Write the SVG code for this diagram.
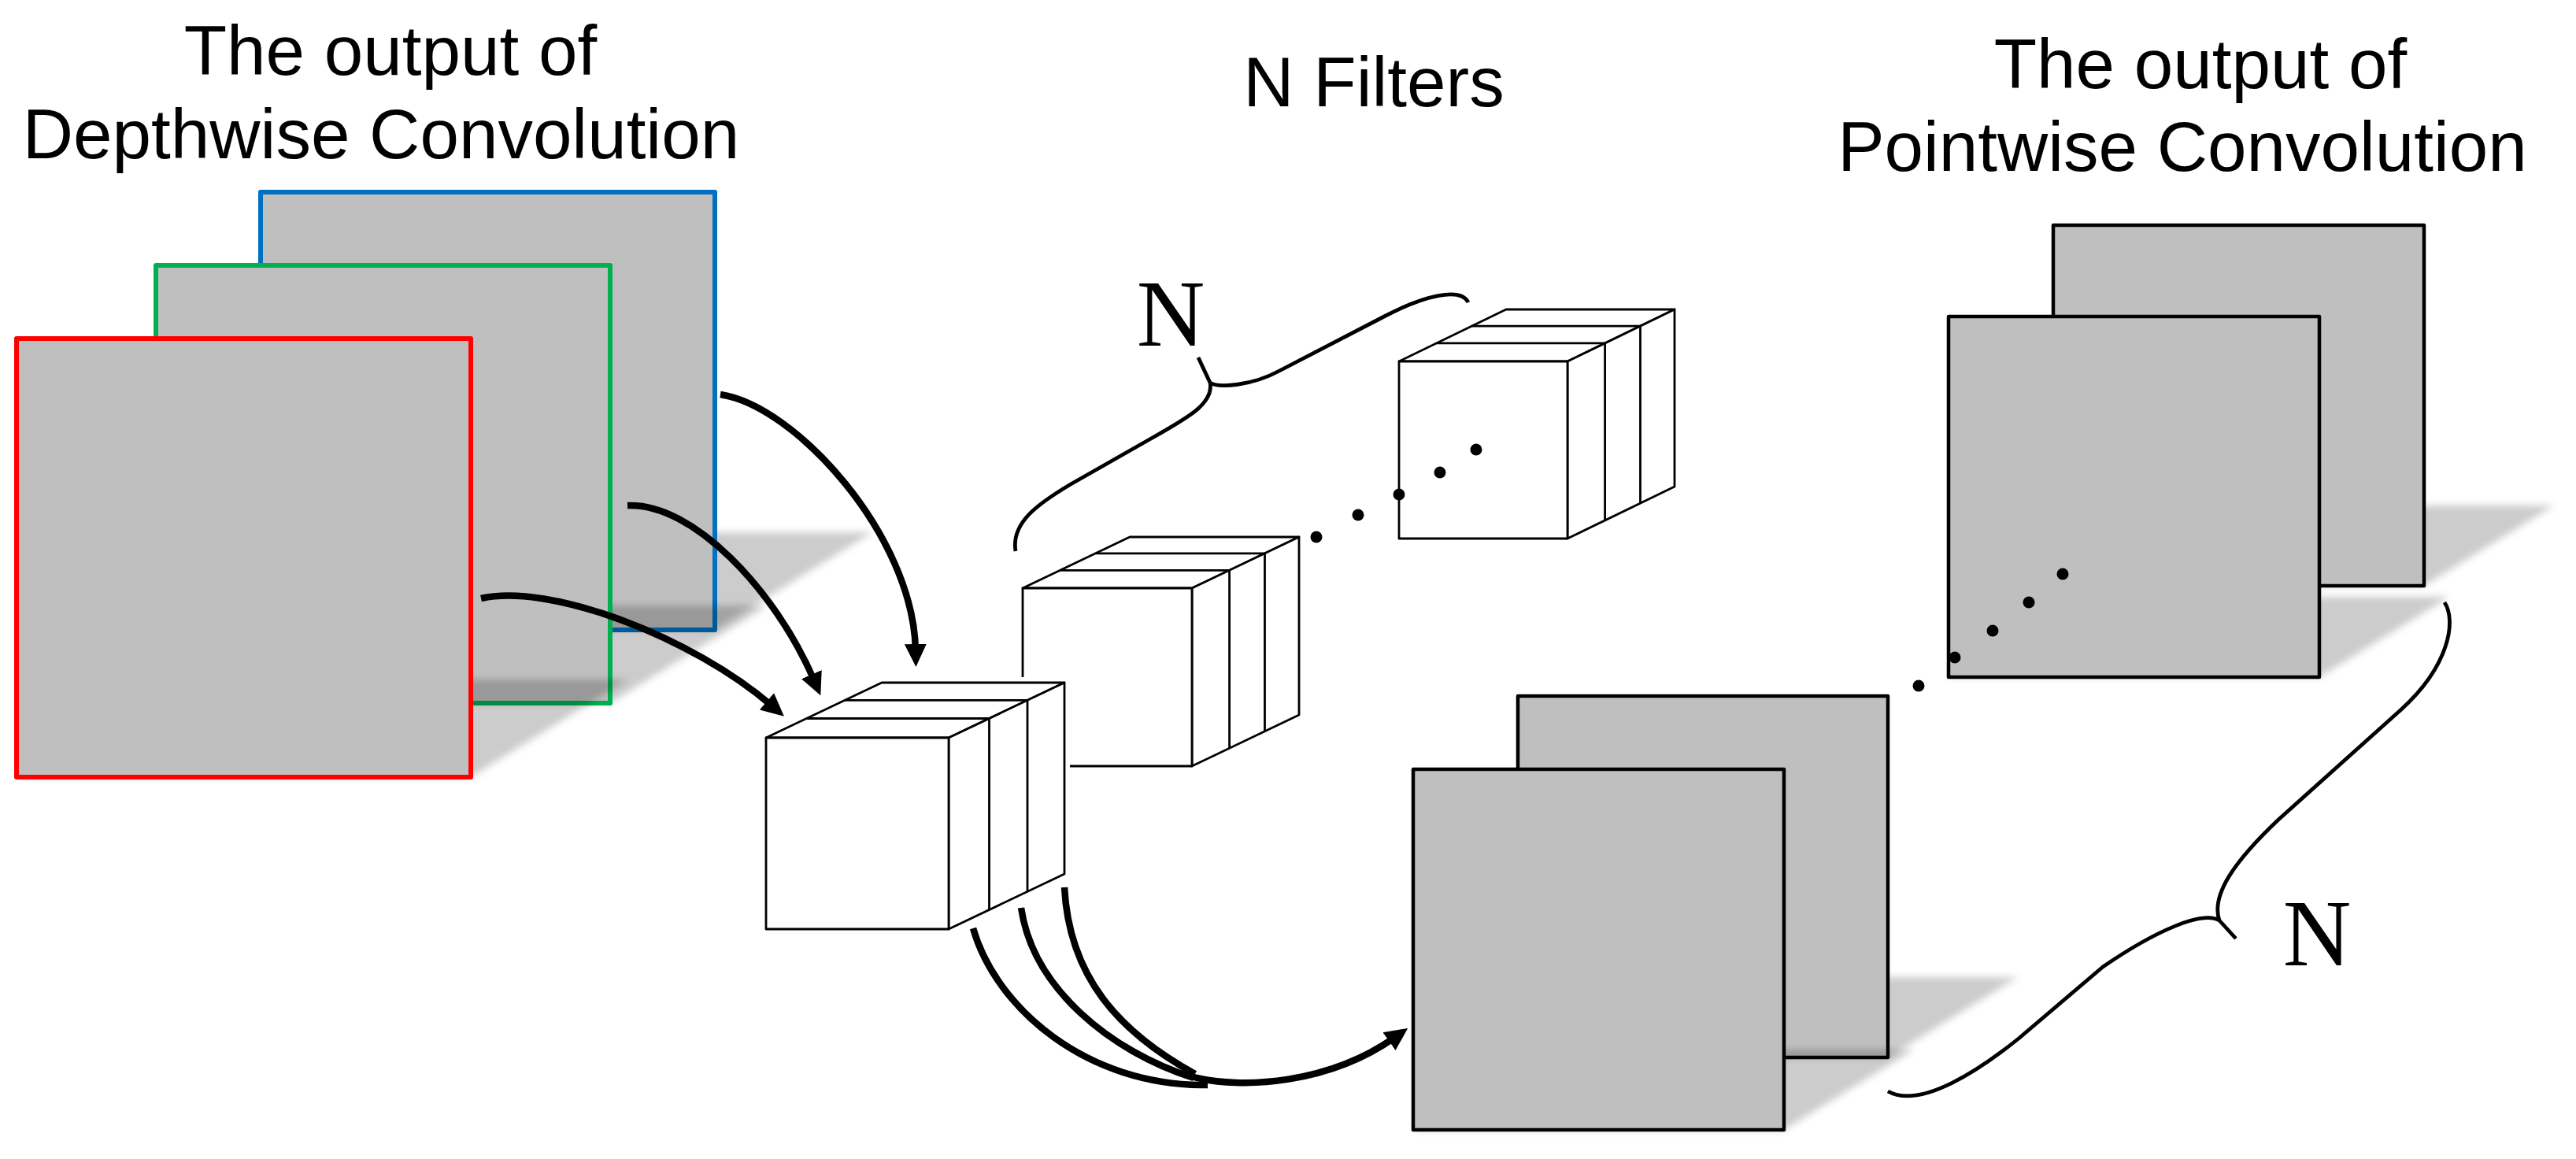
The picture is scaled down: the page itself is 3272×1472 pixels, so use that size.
<svg xmlns="http://www.w3.org/2000/svg" width="3272" height="1472" viewBox="0 0 3272 1472">
  <style>
    .title { font-family: "Liberation Sans", Arial, sans-serif; font-size: 89px; fill: #000; text-anchor: middle; }
    .nlabel { font-family: "Liberation Serif", "Times New Roman", serif; font-size: 120px; fill: #000; text-anchor: middle; }
    .sq { fill: #bfbfbf; stroke: #000; stroke-width: 4.5; stroke-linejoin: round; }
    .csq { fill: #bfbfbf; stroke-width: 6; stroke-linejoin: round; }
    .shadow { fill: #000; fill-opacity: 0.2; filter: url(#blur); }
    .face { fill: #fff; stroke: #000; stroke-width: 2.8; stroke-linejoin: round; }
    .div { fill: none; stroke: #000; stroke-width: 2.8; }
    .conn { fill: none; stroke: #000; stroke-width: 8.5; }
    .brace { fill: none; stroke: #000; stroke-width: 4.8; stroke-linecap: butt; stroke-linejoin: round; }
    .dot { fill: #000; }
  </style>
  <defs>
    <filter id="blur" x="-10%" y="-30%" width="120%" height="160%">
      <feGaussianBlur stdDeviation="5"/>
    </filter>
    <marker id="ah" markerUnits="userSpaceOnUse" markerWidth="32" markerHeight="32" viewBox="0 -16 32 32" refX="8" refY="0" orient="auto">
      <path d="M0,-14 L29,0 L0,14 Z" fill="#000"/>
    </marker>
  </defs>
  <rect x="0" y="0" width="3272" height="1472" fill="#fff"/>

  <!-- Depthwise output stack -->
  <g id="dw-blue">
    <polygon class="shadow" points="331,800 908,800 1108,676 531,676"/>
    <rect class="csq" x="331" y="244" width="577" height="556" stroke="#0070c0"/>
  </g>
  <g id="dw-green">
    <polygon class="shadow" points="198,893 775,893 975,769 398,769"/>
    <rect class="csq" x="198" y="337" width="577" height="556" stroke="#00b050"/>
  </g>
  <g id="dw-red">
    <polygon class="shadow" points="21,987 598,987 798,863 221,863"/>
    <rect class="csq" x="21" y="430" width="577" height="557" stroke="#ff0000"/>
  </g>
  <g id="title-dw">
    <text class="title" x="496" y="95">The output of</text>
    <text class="title" x="484" y="201">Depthwise Convolution</text>
  </g>

  <!-- Filters -->
  <g id="filter-c">
    <polygon class="face" points="1777,459 1991,459 2127,393 1913,393"/>
    <polygon class="face" points="1991,459 2127,393 2127,618 1991,684"/>
    <rect class="face" x="1777" y="459" width="214" height="225"/>
    <path class="div" d="M1824.6,435.9 H2038.6 V660.9 M1869.5,414.1 H2083.5 V639.1"/>
  </g>
  <g id="filter-b">
    <polygon class="face" points="1299,747 1514,747 1650,682 1435,682"/>
    <polygon class="face" points="1514,747 1650,682 1650,908 1514,973"/>
    <rect class="face" x="1299" y="747" width="215" height="226"/>
    <path class="div" d="M1346.6,724.3 H1561.6 V950.3 M1391.5,702.8 H1606.5 V928.8"/>
  </g>
  <g id="filter-a">
    <polygon points="973,937 1120,867 1352,867 1352,1110 1205,1180 973,1180" fill="#fff" stroke="#fff" stroke-width="14" stroke-linejoin="round"/>
    <polygon class="face" points="973,937 1205,937 1352,867 1120,867"/>
    <polygon class="face" points="1205,937 1352,867 1352,1110 1205,1180"/>
    <rect class="face" x="973" y="937" width="232" height="243"/>
    <path class="div" d="M1024.5,912.5 H1256.5 V1155.5 M1073,889.4 H1305 V1132.4"/>
  </g>
  <g id="filter-dots">
    <circle class="dot" cx="1672" cy="682" r="7.5"/>
    <circle class="dot" cx="1725" cy="654" r="7.5"/>
    <circle class="dot" cx="1777" cy="628" r="7.5"/>
    <circle class="dot" cx="1829" cy="600" r="7.5"/>
    <circle class="dot" cx="1875" cy="571" r="7.5"/>
  </g>
  <g id="brace-filters">
    <path class="brace" d="M1290,700 C1284,664 1318,640 1360,615 L1462,557 C1510,530 1542,512 1537,486 L1522,454 M1537,486 C1548,493 1590,490 1625,471 L1760,401 C1808,376 1855,364 1865,384"/>
    <text class="nlabel" x="1487" y="439">N</text>
  </g>
  <g id="title-filters">
    <text class="title" x="1745" y="135">N Filters</text>
  </g>

  <!-- Pointwise output -->
  <g id="pw-back-upper">
    <polygon class="shadow" points="2608,744 3079,744 3244,642 2773,642"/>
    <rect class="sq" x="2608" y="286" width="471" height="458"/>
  </g>
  <g id="pw-front-upper">
    <polygon class="shadow" points="2475,860 2946,860 3111,758 2640,758"/>
    <rect class="sq" x="2475" y="402" width="471" height="458"/>
  </g>
  <g id="pw-back-lower">
    <polygon class="shadow" points="1928,1343 2398,1343 2563,1241 2093,1241"/>
    <rect class="sq" x="1928" y="884" width="470" height="459"/>
  </g>
  <g id="pw-front-lower">
    <polygon class="shadow" points="1795,1435 2266,1435 2431,1333 1960,1333"/>
    <rect class="sq" x="1795" y="977" width="471" height="458"/>
  </g>
  <g id="pw-dots">
    <circle class="dot" cx="2437" cy="871" r="7.5"/>
    <circle class="dot" cx="2483" cy="835" r="7.5"/>
    <circle class="dot" cx="2531" cy="801" r="7.5"/>
    <circle class="dot" cx="2577" cy="765" r="7.5"/>
    <circle class="dot" cx="2620" cy="729" r="7.5"/>
  </g>
  <g id="brace-outputs">
    <path class="brace" d="M3105,765 C3120,788 3112,845 3049,902 L2894,1041 C2838,1094 2808,1137 2819,1169 L2840,1192 M2819,1169 C2798,1156 2738,1182 2671,1228 L2564,1319 C2518,1356 2440,1410 2398,1386"/>
    <text class="nlabel" x="2943" y="1226">N</text>
  </g>
  <g id="title-pw">
    <text class="title" x="2795" y="112">The output of</text>
    <text class="title" x="2772" y="217">Pointwise Convolution</text>
  </g>

  <!-- Connectors -->
  <g id="connectors">
    <path class="conn" d="M915,501 C1010,515 1160,680 1163,826" marker-end="url(#ah)"/>
    <path class="conn" d="M797,642 C880,638 985,750 1034,864" marker-end="url(#ah)"/>
    <path class="conn" d="M611,760 C700,740 880,810 980,896" marker-end="url(#ah)"/>
    <path class="conn" d="M1236,1179 C1265,1280 1380,1380 1534,1378"/>
    <path class="conn" d="M1297,1153 C1312,1255 1410,1335 1516,1369"/>
    <path class="conn" d="M1352,1127 C1358,1240 1420,1310 1518,1364"/>
    <path class="conn" d="M1512,1367 C1580,1385 1690,1375 1771,1318" marker-end="url(#ah)"/>
  </g>
</svg>
